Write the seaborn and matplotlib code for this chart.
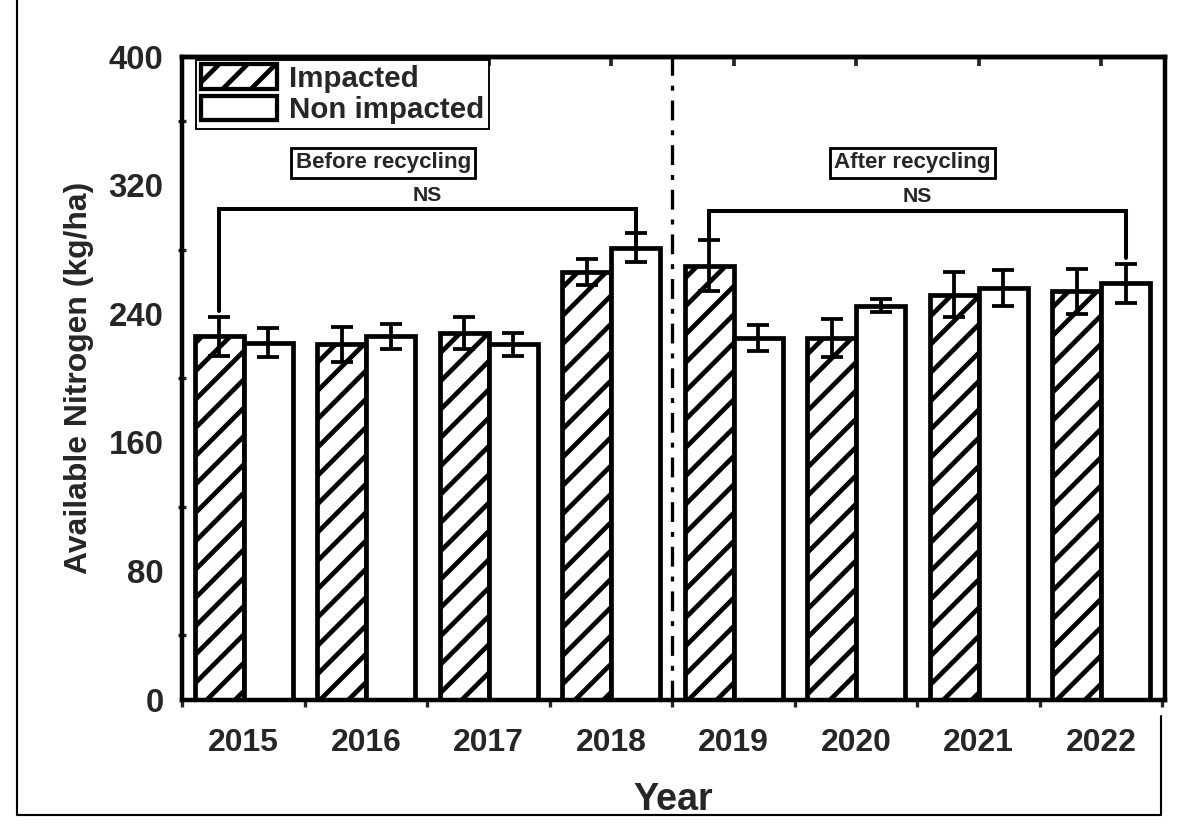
import matplotlib
matplotlib.use("Agg")
import matplotlib.pyplot as plt
from matplotlib.patches import Patch
from matplotlib.lines import Line2D
from matplotlib.ticker import MultipleLocator
import seaborn as sns
import pandas as pd
import numpy as np

# Available nitrogen (kg/ha) per year, mean and error
years = ["2015", "2016", "2017", "2018", "2019", "2020", "2021", "2022"]
impacted = [226, 221, 228, 266, 270, 225, 252, 254]
impacted_err = [12, 11, 10, 8, 16, 12, 14, 14]
non_impacted = [222, 226, 221, 281, 225, 245, 256, 259]
non_impacted_err = [9, 8, 7, 9, 8, 4, 11, 12]
groups = ["Impacted", "Non impacted"]

df = pd.DataFrame({
    "Year": years * 2,
    "N": impacted + non_impacted,
    "err": impacted_err + non_impacted_err,
    "Site": [groups[0]] * len(years) + [groups[1]] * len(years),
})

sns.set_theme(style="white")
plt.rcParams["font.family"] = ["Liberation Sans", "DejaVu Sans"]
plt.rcParams["font.weight"] = "bold"
plt.rcParams["hatch.linewidth"] = 2.0
plt.rcParams["hatch.color"] = "black"

DPI = 170
fig = plt.figure(figsize=(1185 / DPI, 833 / DPI), dpi=DPI)
ax = fig.add_axes([0.154, 0.160, 0.829, 0.772])

sns.barplot(data=df, x="Year", y="N", hue="Site", hue_order=groups,
            palette={groups[0]: "white", groups[1]: "white"},
            edgecolor="black", linewidth=2.0, width=0.8, errorbar=None,
            legend=False, ax=ax, zorder=2)

# hatch the impacted bars and add error bars from the bar centres
for cont, errs in zip(ax.containers, [impacted_err, non_impacted_err]):
    xs = [p.get_x() + p.get_width() / 2 for p in cont.patches]
    hs = [p.get_height() for p in cont.patches]
    ax.errorbar(xs, hs, yerr=errs, fmt="none", ecolor="black",
                elinewidth=1.6, capsize=4.5, capthick=1.6, zorder=3)
for p in ax.containers[0].patches:
    p.set_hatch("//")

imp_x = [p.get_x() + p.get_width() / 2 for p in ax.containers[0].patches]
non_x = [p.get_x() + p.get_width() / 2 for p in ax.containers[1].patches]

# period separator
ax.axvline(3.5, color="black", lw=1.4, ls=(0, (6, 3, 1.5, 3)), zorder=1)

# NS brackets
def bracket(x0, x1, y_top, y0, y1):
    ax.plot([x0, x0, x1, x1], [y0, y_top, y_top, y1], color="black",
            lw=1.7, zorder=1, solid_joinstyle="miter")
    ax.text((x0 + x1) / 2, y_top + 3, "NS", ha="center", va="bottom",
            fontsize=9, fontweight="bold")

bracket(imp_x[0], non_x[3], 305, 242, 284)
bracket(imp_x[4], non_x[7], 304, 286, 275)

box = dict(boxstyle="square,pad=0.2", facecolor="white", edgecolor="black", lw=1.2)
ax.text(1.14, 334, "Before recycling", ha="center", va="center",
        fontsize=9.5, fontweight="bold", bbox=box)
ax.text(5.46, 334, "After recycling", ha="center", va="center",
        fontsize=9.5, fontweight="bold", bbox=box)

ax.set_xlim(-0.47, 7.52)
ax.set_ylim(0, 400)
ax.yaxis.set_major_locator(MultipleLocator(80))
ax.yaxis.set_minor_locator(MultipleLocator(40))
ax.set_xticks(range(len(years)))
ax.set_xticks(np.arange(-0.5, len(years), 1.0), minor=True)
ax.set_xticklabels(years)

for side in ["left", "right", "top", "bottom"]:
    ax.spines[side].set_visible(True)
    ax.spines[side].set_color("black")
    ax.spines[side].set_linewidth(1.9)

ax.tick_params(axis="both", which="major", direction="out", length=5,
               width=1.6, color="black", labelsize=14, pad=3)
ax.tick_params(axis="x", which="major", labelsize=13.5, pad=7, top=False)
ax.tick_params(axis="x", which="minor", direction="out", length=3,
               width=1.4, bottom=True, top=False)
ax.tick_params(axis="y", which="minor", direction="inout", length=3,
               width=1.4, left=True)
for lab in ax.get_xticklabels() + ax.get_yticklabels():
    lab.set_fontweight("bold")

# small inward ticks along the top edge
top = ax.secondary_xaxis("top")
top.set_xticks(range(len(years)))
top.tick_params(direction="in", length=4, width=1.6, labeltop=False)
top.spines["top"].set_linewidth(1.9)

ax.set_xlabel("Year", fontsize=16, fontweight="bold", labelpad=10)
ax.set_ylabel("Available Nitrogen (kg/ha)", fontsize=13.5, fontweight="bold",
              labelpad=6)

handles = [Patch(facecolor="white", edgecolor="black", hatch="//", lw=1.8),
           Patch(facecolor="white", edgecolor="black", lw=1.8)]
leg = ax.legend(handles, groups, loc="upper left", bbox_to_anchor=(0.014, 0.995),
                fontsize=12.5, frameon=True, fancybox=False, framealpha=1,
                edgecolor="black", handlelength=2.6, handleheight=0.9,
                handletextpad=0.4, labelspacing=0.1, borderpad=0.15,
                borderaxespad=0.0)
leg.get_frame().set_linewidth(0.8)
for t in leg.get_texts():
    t.set_fontweight("bold")

# page border
fig.add_artist(Line2D([0.014, 0.014, 0.98, 0.98], [1.0, 0.022, 0.022, 0.14],
                      transform=fig.transFigure, color="black", lw=0.9))

fig.savefig("out.png", dpi=DPI, facecolor="white")
